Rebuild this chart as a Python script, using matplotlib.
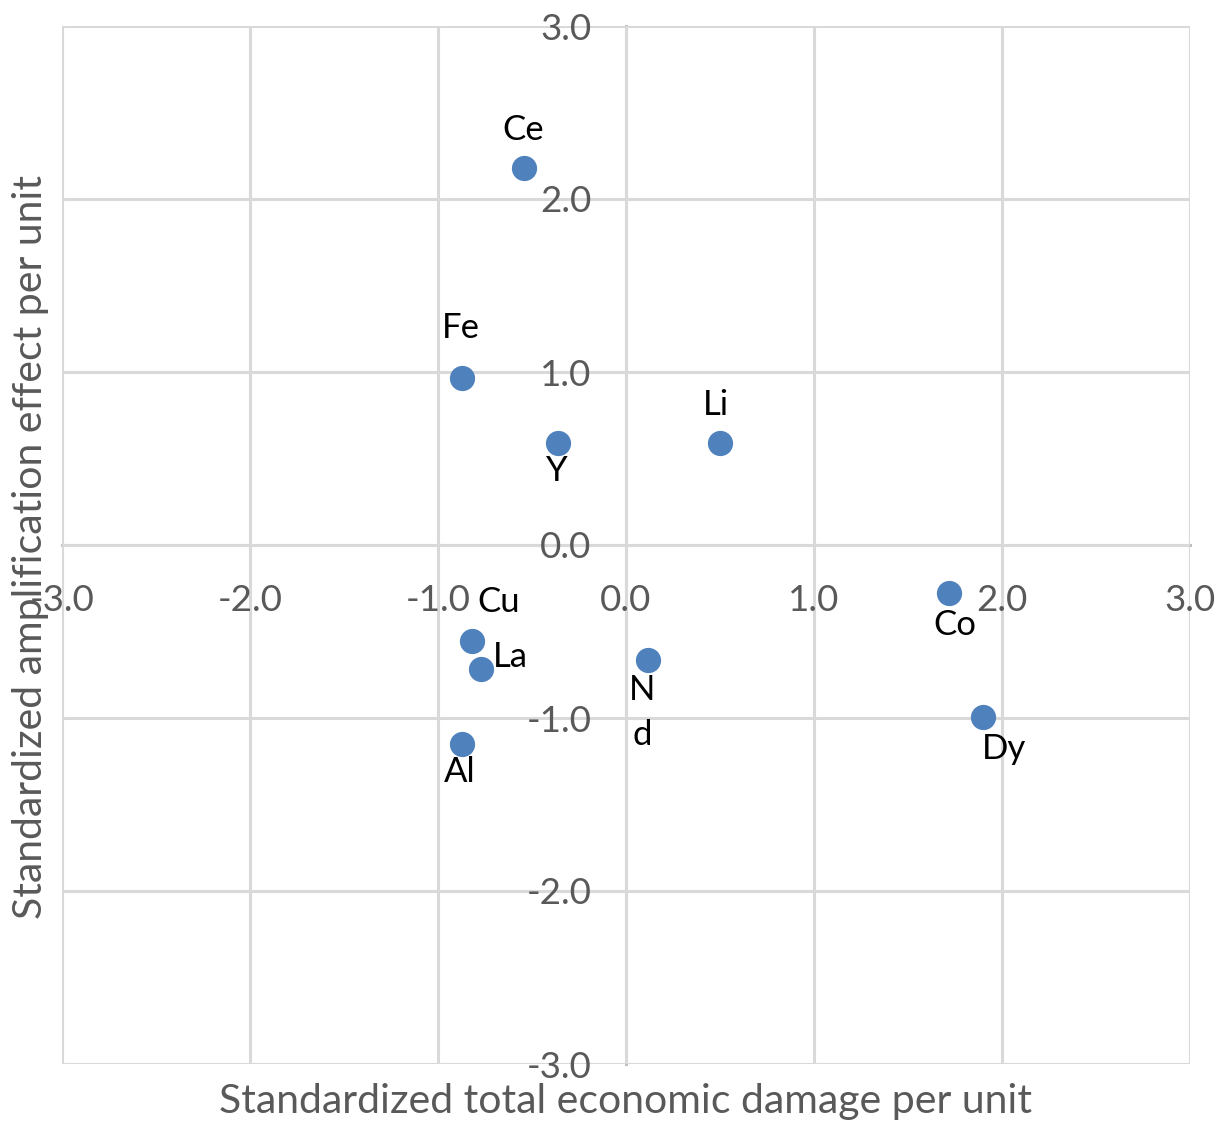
import matplotlib
matplotlib.use("Agg")
import matplotlib.pyplot as plt

elements = ["Ce", "Fe", "Y", "Li", "Cu", "La", "Al", "N\nd", "Co", "Dy"]
damage = [-0.54, -0.87, -0.36, 0.50, -0.82, -0.77, -0.87, 0.117, 1.72, 1.90]
amplification = [2.18, 0.965, 0.59, 0.59, -0.555, -0.717, -1.15, -0.665, -0.277, -0.994]
ticks = [-3.0, -2.0, -1.0, 0.0, 1.0, 2.0, 3.0]
tick_labels = ["-3.0", "-2.0", "-1.0", "0.0", "1.0", "2.0", "3.0"]

# label offsets in points (dx, dy)
offsets = {
    "Ce": (-1, 27), "Fe": (-1, 36), "Y": (-1, -20), "Li": (-3, 27),
    "Cu": (19, 28), "La": (21, 9), "Al": (-2, -20), "N\nd": (-4, -38),
    "Co": (4, -23), "Dy": (15, -23),
}

plt.rcParams['font.family'] = ['Lato', 'DejaVu Sans']

fig = plt.figure(figsize=(12.26, 11.27), dpi=100)
ax = fig.add_axes([62/1226, 1-1064/1127, 1128/1226, 1038/1127])

ax.set_xlim(-3, 3)
ax.set_ylim(-3, 3)
ax.set_xticks(ticks)
ax.set_yticks(ticks)
ax.set_xticklabels(tick_labels)
ax.set_yticklabels(tick_labels)

ax.grid(True, color='#d9d9d9', linewidth=2.2, zorder=0)
for gl in ax.get_xgridlines() + ax.get_ygridlines():
    gl.set_clip_on(False)

ax.spines['left'].set_position('zero')
ax.spines['bottom'].set_position('zero')
ax.spines['top'].set_visible(False)
ax.spines['right'].set_visible(False)
for s in ('left', 'bottom'):
    ax.spines[s].set_color('#bfbfbf')
    ax.spines[s].set_linewidth(2.2)
    ax.spines[s].set_zorder(1)

ax.tick_params(axis='both', length=0, labelsize=26.5, labelcolor='#595959')
ax.tick_params(axis='x', pad=28)
ax.tick_params(axis='y', pad=25)

ax.scatter(damage, amplification, s=330, color='#4F81BD', zorder=3, linewidths=0)

for name, x, y in zip(elements, damage, amplification):
    dx, dy = offsets[name]
    ax.annotate(name, (x, y), xytext=(dx, dy), textcoords='offset points',
                ha='center', va='center', fontsize=25, color='black', zorder=4,
                linespacing=1.5)

fig.text(626/1226, 1-1101/1127, "Standardized total economic damage per unit",
         fontsize=29.5, color='#595959', ha='center', va='center')
fig.text(31/1226, 1-547/1127, "Standardized amplification effect per unit",
         fontsize=29.5, color='#595959', ha='center', va='center', rotation=90)

fig.savefig("out.png", dpi=100, facecolor='white')
